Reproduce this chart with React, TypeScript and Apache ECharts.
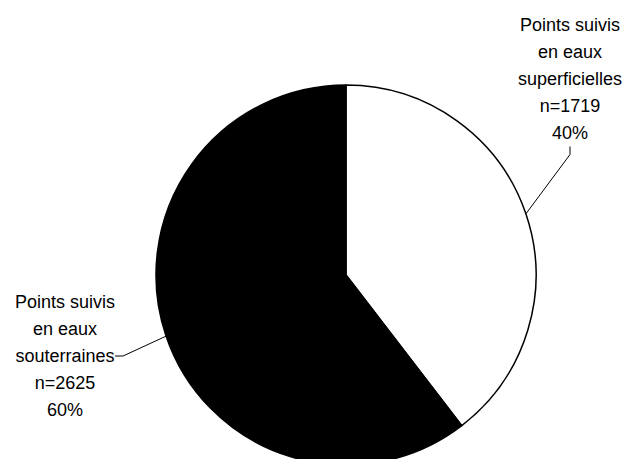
import React, { useEffect, useRef } from "react";
import * as echarts from "echarts";

const categories = [
  "Points suivis\nen eaux\nsuperficielles",
  "Points suivis\nen eaux\nsouterraines",
];
const counts = [1719, 2625];
const sliceColors = ["#ffffff", "#000000"];

export default function App() {
  const ref = useRef<HTMLDivElement>(null);
  useEffect(() => {
    if (!ref.current) return;
    const chart = echarts.init(ref.current, undefined, { renderer: "svg" });
    chart.setOption({
      animation: false,
      backgroundColor: "#ffffff",
      series: [
        {
          type: "pie",
          center: [346, 275],
          radius: 190,
          startAngle: 90,
          clockwise: true,
          avoidLabelOverlap: false,
          data: categories.map((name, i) => ({
            name,
            value: counts[i],
            itemStyle: {
              color: sliceColors[i],
              borderColor: "#000000",
              borderWidth: 1.5,
            },
          })),
          label: {
            show: true,
            position: "outside",
            color: "#000000",
            fontFamily: "Liberation Sans, Arial, sans-serif",
            fontSize: 18,
            lineHeight: 27,
            align: "center",
            formatter: (p: any) =>
              `${p.name}\nn=${p.value}\n${Math.round(p.percent)}%`,
          },
          labelLine: {
            show: true,
            length: 15,
            length2: 8,
            lineStyle: { color: "#000000", width: 1 },
          },
          labelLayout: (p: any) =>
            p.dataIndex === 0
              ? { x: 570, y: 79, align: "center", verticalAlign: "middle" }
              : { x: 65, y: 356, align: "center", verticalAlign: "middle" },
          emphasis: { disabled: true },
        },
      ],
    });
    return () => chart.dispose();
  }, []);
  return (
    <div
      ref={ref}
      style={{ position: "fixed", left: 0, top: 0, width: 629, height: 459 }}
    />
  );
}
